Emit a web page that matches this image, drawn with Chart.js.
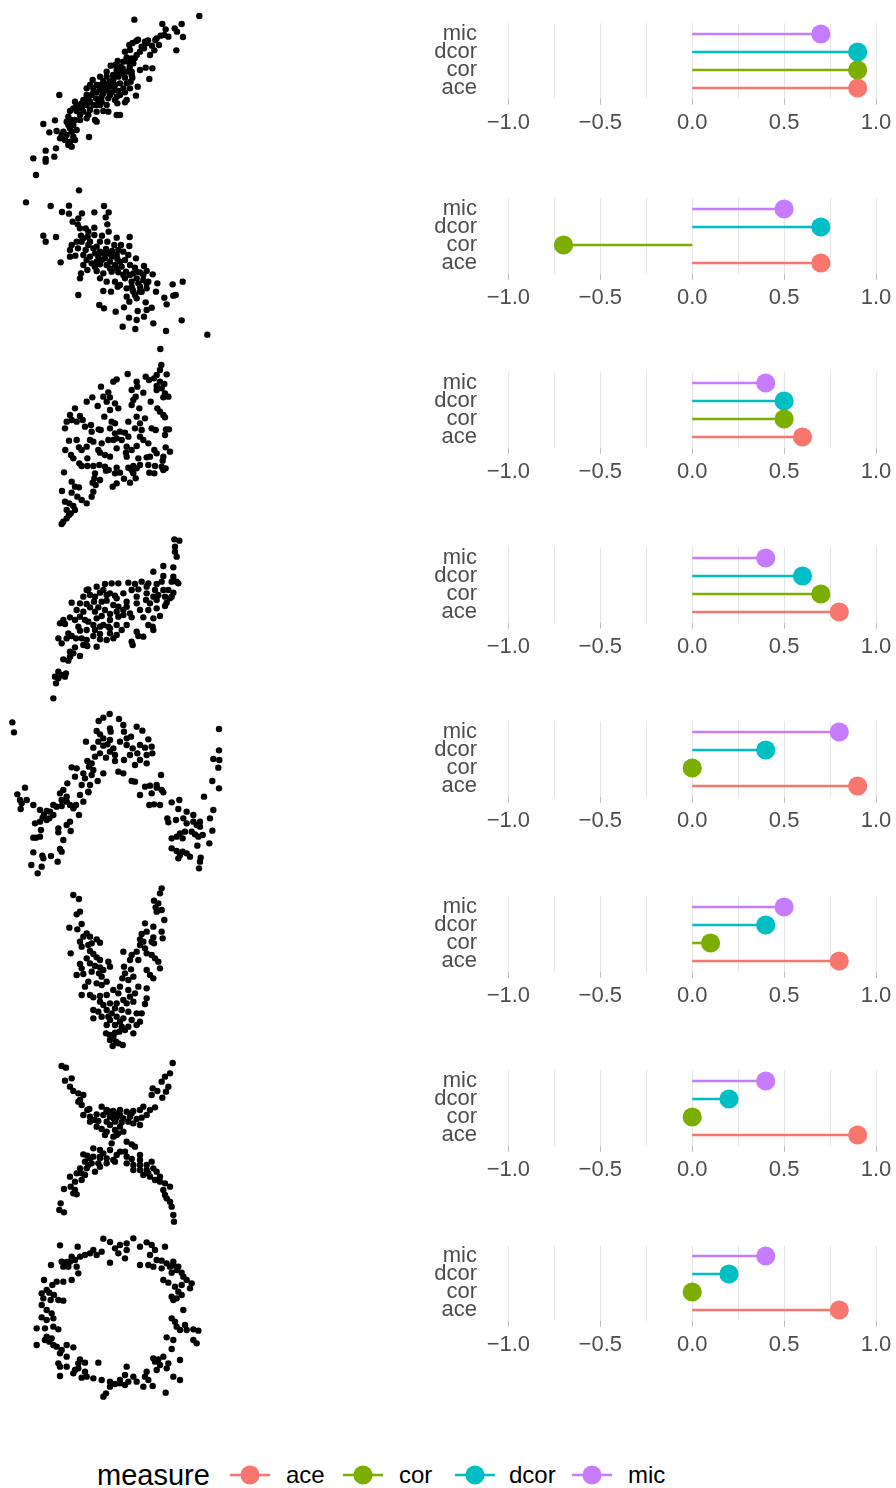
<!DOCTYPE html>
<html>
<head>
<meta charset="utf-8">
<script src="https://cdn.jsdelivr.net/npm/chart.js@4/dist/chart.umd.min.js"></script>
<style>
  html, body { margin: 0; padding: 0; background: #ffffff; }
  body { position: relative; width: 896px; height: 1488px; overflow: hidden;
         font-family: "Liberation Sans", Arial, Helvetica, sans-serif; }
  canvas { position: absolute; }
  .lg { position: absolute; color: #000000; white-space: nowrap; line-height: 1; }
  .lg-title { font-size: 29px; }
  .lg-text { font-size: 24px; }
  .lg-key { position: absolute; }
</style>
</head>
<body>
<script>
// ---- association measures per relationship (one value per row, top to bottom) ----
const measures = ['ace', 'cor', 'dcor', 'mic'];
const measureColors = ['#F8766D', '#7CAE00', '#00BFC4', '#C77CFF'];
const aceValues  = [0.9,  0.7, 0.6, 0.8, 0.9, 0.8, 0.9, 0.8];
const corValues  = [0.9, -0.7, 0.5, 0.7, 0.0, 0.1, 0.0, 0.0];
const dcorValues = [0.9,  0.7, 0.5, 0.6, 0.4, 0.4, 0.2, 0.2];
const micValues  = [0.7,  0.5, 0.4, 0.4, 0.8, 0.5, 0.4, 0.4];
const xTickLabels = [-1, -0.5, 0, 0.5, 1];
const xGridValues = [-1, -0.75, -0.5, -0.25, 0, 0.25, 0.5, 0.75, 1];

// ---- simulated samples (x, y) for each relationship ----
const linearPts = [
[598,-33],[403,-44],[487,-57],[545,-57],[497,-73],[524,-70],[531,-80],[493,-90],[482,-92],[549,-96],
[466,-105],[444,-106],[414,-104],[388,-120],[398,-114],[409,-108],[432,-130],[456,-122],[477,-120],[529,-136],
[450,-150],[463,-136],[404,-160],[380,-157],[353,-168],[370,-170],[332,-182],[362,-185],[389,-186],[437,-188],
[457,-190],[448,-222],[413,-245],[397,-218],[380,-200],[366,-205],[350,-195],[339,-210],[320,-200],[300,-215],
[278,-225],[270,-240],[290,-240],[310,-228],[330,-230],[345,-240],[360,-235],[380,-235],[390,-250],[375,-262],
[355,-258],[335,-262],[318,-255],[300,-255],[280,-262],[260,-270],[250,-285],[270,-290],[288,-280],[305,-275],
[325,-280],[345,-285],[352,-295],[380,-285],[408,-272],[375,-292],[320,-300],[300,-300],[280,-300],[260,-300],
[238,-300],[220,-310],[210,-318],[230,-318],[250,-320],[270,-315],[290,-320],[310,-318],[325,-320],[350,-330],
[360,-330],[178,-270],[240,-330],[260,-340],[285,-345],[290,-350],[130,-357],[165,-346],[200,-350],[220,-360],
[210,-370],[230,-375],[190,-380],[148,-382],[170,-378],[200,-390],[220,-395],[195,-405],[210,-410],[180,-400],
[225,-405],[267,-396],[205,-420],[215,-425],[137,-437],[168,-430],[100,-460],[137,-462],[163,-455],[137,-470],
[108,-510],[260,-250],[280,-250],[300,-240],[320,-215],[340,-225],[355,-215],[375,-218],[395,-200],[310,-265],
[295,-290],[265,-280],[245,-295],[225,-290],[330,-245],[360,-270],[240,-345],[205,-335],[215,-345],[420,-140],
[440,-115],[470,-100],[505,-95],[375,-140],[390,-135],[345,-180],[368,-190],[400,-175],[392,-230],
[230,-300],[245,-310],[255,-292],[275,-270],[290,-262],[315,-245],[325,-235],[340,-215],[350,-205],[365,-195],
[385,-170],[395,-160],[410,-150],[425,-125],[435,-110],[265,-330],[215,-380],[205,-360],[225,-345],[185,-390],
[290,-300],[305,-290],[330,-270],[345,-255],[370,-250],[350,-275],[395,-210],[420,-195]
];
const negativePts = [
[237,-16],[78,-52],[152,-63],[207,-62],[312,-63],[186,-81],[207,-86],[246,-85],[283,-82],[326,-82],
[317,-97],[235,-100],[218,-110],[233,-118],[322,-118],[257,-130],[283,-128],[130,-152],[168,-156],[137,-170],
[243,-152],[263,-155],[283,-150],[306,-152],[326,-140],[350,-158],[389,-156],[245,-170],[270,-170],[300,-170],
[322,-170],[343,-180],[363,-180],[388,-183],[215,-180],[234,-190],[210,-195],[257,-195],[280,-190],[300,-200],
[318,-192],[336,-198],[355,-195],[370,-200],[385,-210],[210,-215],[226,-212],[250,-210],[270,-215],[295,-215],
[315,-220],[335,-215],[352,-222],[375,-225],[408,-220],[182,-232],[250,-240],[275,-235],[300,-238],[320,-240],
[345,-240],[365,-245],[390,-240],[405,-248],[432,-243],[262,-255],[290,-258],[310,-265],[335,-260],[355,-262],
[378,-260],[400,-265],[420,-262],[440,-258],[458,-268],[243,-265],[240,-280],[300,-280],[320,-290],[345,-290],
[375,-280],[410,-280],[430,-285],[445,-290],[472,-295],[518,-298],[548,-290],[235,-330],[310,-318],[333,-320],
[353,-305],[380,-310],[398,-315],[420,-305],[440,-310],[468,-320],[493,-338],[520,-332],[527,-330],[380,-335],
[388,-350],[410,-340],[437,-352],[500,-358],[298,-360],[312,-370],[347,-380],[372,-367],[413,-378],[440,-375],
[455,-368],[387,-398],[410,-405],[432,-395],[460,-415],[545,-406],[368,-425],[406,-432],[498,-438],[622,-449],
[400,-320],[425,-320],[360,-300],[290,-230],[305,-225],[240,-130],[265,-140],[285,-205],[350,-210],[395,-290],
[415,-295],[260,-225],[285,-245],[330,-250],[350,-250],[370,-270],[390,-270],[410,-260],[430,-270],[440,-295],
[420,-320],[405,-330],[395,-305],[325,-205],[310,-205],[290,-185],[265,-180],[230,-170],[250,-160],[330,-230],
[360,-230]
];
const rhombusPts = [
[481,-27],[484,-75],[480,-90],[470,-105],[500,-103],[383,-102],[350,-118],[340,-125],[437,-110],[447,-120],
[462,-115],[410,-125],[480,-125],[493,-132],[470,-138],[412,-140],[395,-150],[430,-158],[303,-140],[325,-157],
[310,-170],[330,-172],[277,-172],[260,-185],[293,-198],[320,-185],[345,-190],[330,-210],[355,-205],[400,-180],
[407,-170],[395,-195],[452,-185],[495,-160],[505,-170],[490,-172],[418,-205],[472,-205],[480,-215],[490,-225],
[495,-232],[225,-205],[210,-225],[200,-245],[195,-265],[215,-240],[230,-245],[248,-240],[240,-228],[273,-255],
[313,-230],[335,-245],[345,-250],[410,-230],[435,-235],[420,-250],[385,-245],[405,-265],[455,-265],[467,-270],
[498,-268],[507,-268],[495,-285],[296,-268],[302,-270],[275,-275],[345,-280],[360,-275],[375,-278],[385,-290],
[350,-295],[340,-300],[365,-300],[420,-290],[430,-300],[445,-310],[207,-302],[270,-300],[280,-305],[305,-310],
[325,-300],[237,-322],[245,-330],[295,-330],[300,-338],[350,-325],[380,-320],[378,-338],[395,-330],[410,-318],
[463,-330],[497,-322],[510,-335],[196,-330],[213,-345],[220,-355],[262,-355],[315,-345],[330,-350],[380,-350],
[415,-355],[440,-352],[470,-340],[490,-350],[488,-362],[238,-370],[245,-378],[262,-378],[280,-378],[298,-375],
[315,-380],[326,-390],[350,-383],[385,-383],[400,-378],[420,-375],[445,-375],[465,-378],[485,-380],[497,-385],
[192,-397],[285,-400],[283,-415],[318,-392],[345,-400],[360,-398],[395,-390],[410,-385],[448,-398],[463,-400],
[490,-390],[215,-425],[225,-440],[237,-442],[278,-428],[287,-435],[350,-430],[338,-440],[372,-416],[390,-428],
[407,-415],[186,-453],[215,-458],[280,-455],[275,-470],[232,-470],[245,-480],[260,-490],[208,-490],[195,-485],
[220,-498],[200,-510],[212,-520],[225,-510],[190,-545],[200,-535],[207,-525],[185,-552],
[470,-150],[485,-145],[425,-270],[330,-265],[255,-260],[230,-300],[260,-320],[450,-350],[400,-400],[300,-420]
];
const cubicPts = [
[523,-28],[538,-32],[525,-50],[525,-65],[530,-80],[490,-108],[520,-112],[460,-125],[490,-138],[520,-140],
[530,-155],[515,-155],[485,-155],[470,-162],[445,-160],[425,-155],[405,-162],[385,-158],[355,-160],[335,-160],
[315,-162],[260,-180],[265,-178],[300,-188],[330,-190],[345,-197],[370,-190],[395,-180],[415,-178],[440,-170],
[465,-180],[475,-195],[495,-200],[510,-205],[520,-188],[535,-160],[215,-218],[240,-220],[260,-222],[282,-215],
[305,-215],[320,-212],[340,-225],[355,-230],[380,-215],[410,-200],[438,-210],[460,-200],[500,-218],[515,-200],
[230,-240],[250,-245],[270,-232],[295,-232],[315,-240],[330,-252],[350,-245],[370,-240],[390,-250],[420,-240],
[445,-240],[470,-235],[495,-228],[190,-270],[210,-262],[225,-270],[290,-265],[305,-258],[330,-270],[355,-260],
[370,-255],[395,-262],[430,-262],[460,-265],[480,-258],[180,-280],[195,-282],[265,-275],[280,-285],[310,-285],
[325,-290],[350,-285],[380,-285],[445,-285],[458,-290],[205,-310],[215,-318],[240,-302],[260,-300],[285,-300],
[300,-312],[330,-310],[350,-315],[365,-300],[410,-305],[430,-320],[460,-300],[175,-325],[185,-340],[200,-325],
[228,-325],[245,-325],[260,-330],[280,-318],[300,-328],[320,-330],[340,-325],[395,-335],[415,-318],[225,-352],
[250,-345],[262,-348],[290,-350],[398,-345],[210,-365],[220,-370],[240,-378],[190,-388],[205,-392],[210,-380],
[175,-425],[185,-435],[198,-430],[165,-440],[175,-445],[195,-440],[168,-460],[160,-505],[270,-195],[290,-170],
[310,-180],[285,-245],[240,-260],[450,-220],[505,-180],
[320,-195],[350,-205],[285,-200],[250,-200],[300,-290],[330,-295],[255,-270],[235,-290],[380,-230],[410,-220],
[440,-190],[470,-210],[490,-180]
];
const sinePts = [
[37,-52],[42,-82],[329,-27],[296,-48],[310,-38],[357,-42],[370,-60],[410,-65],[427,-77],[330,-70],
[332,-80],[290,-78],[300,-88],[372,-80],[393,-95],[445,-103],[657,-72],[258,-110],[295,-110],[310,-122],
[280,-128],[322,-118],[340,-130],[380,-120],[398,-130],[420,-120],[435,-128],[455,-125],[390,-150],[412,-145],
[440,-150],[457,-145],[300,-145],[330,-140],[345,-150],[318,-158],[285,-155],[262,-168],[275,-175],[345,-168],
[372,-165],[420,-165],[405,-180],[440,-175],[657,-136],[640,-162],[658,-165],[655,-188],[215,-187],[230,-190],
[267,-185],[255,-220],[275,-210],[310,-205],[293,-228],[355,-200],[370,-205],[395,-228],[405,-230],[483,-210],
[637,-228],[657,-250],[202,-235],[190,-255],[180,-265],[245,-240],[270,-240],[240,-270],[265,-262],[435,-245],
[450,-242],[470,-248],[485,-255],[490,-262],[420,-270],[52,-268],[75,-248],[60,-285],[65,-295],[80,-285],
[185,-285],[200,-275],[160,-300],[170,-305],[185,-303],[210,-300],[228,-300],[100,-300],[120,-315],[140,-318],
[150,-320],[62,-312],[128,-338],[140,-345],[148,-340],[237,-330],[612,-275],[448,-300],[462,-298],[480,-300],
[515,-292],[538,-285],[535,-312],[502,-340],[505,-352],[528,-345],[550,-340],[560,-355],[580,-350],[590,-360],
[600,-365],[640,-315],[630,-340],[105,-355],[120,-350],[210,-350],[200,-360],[212,-378],[175,-370],[175,-382],
[123,-375],[100,-398],[108,-398],[190,-405],[540,-385],[555,-380],[575,-380],[585,-388],[595,-395],[608,-390],
[637,-377],[515,-430],[530,-438],[540,-450],[548,-440],[560,-445],[535,-460],[570,-455],[185,-440],[180,-432],
[100,-442],[127,-452],[130,-460],[153,-453],[94,-480],[125,-485],[173,-470],[113,-505],[602,-458],[597,-490],
[600,-470],[628,-415],[592,-422],[548,-400],[600,-350],[470,-240],[455,-265],[250,-290],[265,-260],[220,-310],
[132,-330],[310,-100],[330,-105],[360,-110],[380,-100],[280,-195],[250,-205],[225,-215],[200,-290],[160,-330],
[120,-395],[560,-320],[580,-330],[515,-400],[530,-395]
];
const vShapePts = [
[220,-45],[237,-57],[485,-25],[480,-40],[462,-62],[475,-70],[467,-82],[470,-95],[485,-90],[493,-120],
[240,-95],[230,-103],[435,-130],[245,-132],[208,-143],[232,-148],[460,-140],[440,-155],[425,-162],[485,-155],
[260,-160],[270,-170],[290,-178],[300,-188],[420,-178],[460,-172],[455,-185],[488,-175],[240,-185],[245,-200],
[265,-195],[212,-220],[270,-213],[280,-222],[370,-215],[395,-225],[410,-215],[435,-205],[440,-220],[462,-190],
[260,-235],[290,-232],[300,-240],[325,-245],[390,-240],[465,-235],[475,-245],[240,-252],[270,-250],[285,-258],
[300,-262],[330,-260],[372,-260],[440,-270],[480,-265],[230,-285],[250,-282],[275,-275],[297,-280],[375,-280],
[393,-268],[450,-285],[460,-295],[265,-305],[290,-310],[305,-315],[320,-305],[367,-295],[385,-300],[400,-290],
[440,-325],[255,-320],[245,-345],[270,-345],[280,-352],[300,-348],[320,-345],[355,-340],[385,-330],[390,-350],
[405,-340],[415,-320],[440,-355],[300,-365],[310,-375],[330,-370],[350,-370],[370,-360],[380,-370],[400,-365],
[435,-372],[280,-390],[295,-395],[320,-390],[345,-385],[365,-390],[385,-395],[410,-400],[425,-400],[280,-415],
[305,-410],[325,-410],[350,-410],[370,-415],[395,-420],[420,-425],[320,-435],[345,-435],[365,-440],[385,-440],
[410,-435],[318,-460],[330,-465],[345,-458],[358,-455],[400,-460],[330,-480],[348,-485],[368,-495],[338,-498],
[355,-490],[245,-265],[305,-290],[335,-400],[455,-225],[415,-240],
[250,-170],[275,-190],[420,-195],[430,-185],[310,-270],[360,-320],[340,-330],[330,-420],[360,-425],[375,-450],
[340,-470]
];
const crossPts = [
[185,-33],[198,-38],[518,-24],[510,-55],[495,-65],[485,-80],[505,-95],[498,-110],[195,-77],[215,-70],
[210,-95],[220,-108],[235,-115],[250,-120],[458,-100],[455,-120],[472,-108],[487,-128],[240,-135],[245,-150],
[262,-165],[268,-162],[305,-155],[320,-165],[340,-168],[360,-165],[380,-170],[400,-168],[420,-165],[430,-155],
[450,-165],[465,-157],[440,-180],[250,-180],[270,-185],[290,-178],[310,-180],[330,-185],[350,-188],[370,-190],
[390,-185],[410,-192],[425,-188],[270,-200],[295,-198],[320,-200],[345,-200],[365,-202],[385,-200],[400,-205],
[420,-210],[290,-215],[305,-222],[320,-230],[345,-225],[355,-235],[370,-230],[315,-240],[340,-245],[350,-240],
[380,-260],[395,-268],[405,-275],[280,-280],[300,-285],[330,-285],[360,-290],[375,-290],[250,-298],[262,-302],
[280,-305],[300,-305],[320,-310],[340,-315],[380,-305],[395,-312],[420,-300],[255,-320],[275,-325],[295,-325],
[320,-325],[345,-320],[380,-325],[400,-330],[420,-330],[455,-320],[240,-340],[260,-340],[285,-350],[300,-335],
[400,-345],[420,-345],[440,-345],[460,-340],[230,-355],[255,-360],[210,-365],[225,-380],[245,-375],[430,-360],
[450,-365],[470,-350],[480,-365],[480,-380],[495,-385],[465,-375],[192,-402],[212,-395],[225,-405],[220,-415],
[230,-418],[490,-405],[510,-395],[495,-420],[500,-430],[510,-440],[182,-445],[515,-455],[178,-465],[192,-472],
[520,-480],[522,-500],[340,-190],[330,-170],[360,-180],[300,-310],[440,-330],[235,-140],[270,-310],
[320,-170],[345,-175],[395,-175],[285,-195],[330,-210],[360,-215],[335,-265],[310,-295],[350,-300],[420,-315],
[265,-330],[245,-355],[445,-355]
];
const ringPts = [
[180,-46],[233,-50],[310,-26],[330,-36],[345,-55],[360,-45],[380,-40],[400,-25],[380,-60],[355,-70],
[375,-85],[440,-37],[455,-45],[465,-60],[450,-75],[495,-50],[305,-65],[290,-75],[270,-70],[255,-75],
[240,-80],[225,-90],[210,-95],[185,-95],[190,-110],[205,-110],[230,-110],[330,-98],[420,-105],[445,-105],
[460,-110],[485,-92],[500,-100],[510,-110],[520,-105],[535,-110],[530,-120],[485,-115],[515,-128],[545,-128],
[550,-140],[560,-150],[575,-160],[570,-175],[153,-105],[235,-130],[215,-150],[190,-155],[170,-155],[132,-150],
[157,-165],[140,-180],[125,-190],[148,-188],[162,-195],[175,-210],[190,-212],[152,-210],[125,-225],[490,-150],
[505,-158],[525,-170],[535,-185],[545,-195],[530,-205],[520,-210],[515,-200],[550,-240],[125,-262],[140,-270],
[155,-250],[160,-265],[110,-295],[135,-295],[160,-290],[175,-298],[515,-265],[525,-275],[530,-290],[540,-300],
[560,-300],[580,-298],[595,-302],[140,-320],[145,-330],[155,-325],[148,-335],[135,-330],[500,-322],[520,-330],
[580,-330],[590,-340],[110,-345],[170,-350],[185,-360],[200,-345],[220,-352],[515,-357],[180,-370],[200,-380],
[240,-388],[235,-400],[255,-398],[175,-400],[180,-410],[460,-385],[475,-388],[490,-380],[465,-395],[480,-405],
[540,-390],[295,-398],[225,-420],[235,-415],[255,-425],[220,-430],[380,-410],[440,-425],[470,-420],[500,-415],
[180,-438],[245,-443],[280,-445],[305,-450],[375,-435],[360,-450],[385,-455],[410,-455],[435,-440],[445,-450],
[520,-440],[540,-450],[330,-470],[345,-462],[360,-460],[375,-465],[430,-470],[458,-468],[318,-490],[310,-500],
[497,-488],[520,-95],[200,-96],
[215,-80],[280,-60],[420,-50],[470,-90],[545,-165],[130,-205],[140,-240],[555,-285],[160,-345],[200,-410],
[260,-440],[330,-455],[400,-440],[505,-400]
];

const samples = [linearPts, negativePts, rhombusPts, cubicPts, sinePts, vShapePts, crossPts, ringPts];
const measureValues = [aceValues, corValues, dcorValues, micValues];

// ---- layout ----
const FONT = '"Liberation Sans", Arial, Helvetica, sans-serif';
const scatterBoxes = [
  { top: 5,    height: 180 }, { top: 185,  height: 160 },
  { top: 340,  height: 190 }, { top: 530,  height: 180 },
  { top: 705,  height: 180 }, { top: 880,  height: 175 },
  { top: 1055, height: 175 }, { top: 1230, height: 175 }
];
const ROW_STEP = 174.57;

function makeCanvas(left, top, width, height) {
  const c = document.createElement('canvas');
  c.width = width; c.height = height;
  c.style.left = left + 'px'; c.style.top = top + 'px';
  c.style.width = width + 'px'; c.style.height = height + 'px';
  document.body.appendChild(c);
  return c;
}

const baseOptions = {
  responsive: false,
  animation: false,
  devicePixelRatio: 1,
  events: [],
  plugins: { legend: { display: false }, tooltip: { enabled: false } }
};

// scatter of each sample
samples.forEach((pts, i) => {
  const box = scatterBoxes[i];
  const canvas = makeCanvas(0, box.top, 230, box.height);
  new Chart(canvas, {
    type: 'scatter',
    data: {
      datasets: [{
        data: pts.map(p => ({ x: p[0], y: p[1] })),
        pointRadius: 3.2,
        pointBackgroundColor: '#000000',
        pointBorderWidth: 0,
        clip: false
      }]
    },
    options: Object.assign({}, baseOptions, {
      layout: { padding: 0, autoPadding: false },
      scales: {
        x: { display: false, min: 0, max: 690 },
        y: { display: false, min: -box.height * 3, max: 0 }
      }
    })
  });
});

// lollipop of the four measures for each sample
function fmtTick(v) {
  if (!xTickLabels.some(t => Math.abs(t - v) < 1e-9)) return '';
  const s = Math.abs(v).toFixed(1);
  return v < 0 ? '\u2212' + s : s;
}

samples.forEach((_, i) => {
  const top = Math.round(15 + i * ROW_STEP);
  const canvas = makeCanvas(420, top, 476, 125);
  const datasets = measures.map((m, k) => ({
    label: m,
    data: [{ x: 0, y: k + 1 }, { x: measureValues[k][i], y: k + 1 }],
    showLine: true,
    borderColor: measureColors[k],
    borderWidth: 2.6,
    pointRadius: [0, 9.6],
    pointHoverRadius: [0, 9.6],
    pointBackgroundColor: measureColors[k],
    pointBorderWidth: 0,
    clip: false
  }));
  new Chart(canvas, {
    type: 'scatter',
    data: { datasets },
    options: Object.assign({}, baseOptions, {
      layout: { padding: { top: 8.2, right: 1.6, bottom: 0, left: 0 }, autoPadding: false },
      scales: {
        x: {
          min: -1.1, max: 1.1,
          afterBuildTicks: s => { s.ticks = xGridValues.map(v => ({ value: v })); },
          afterFit: s => { s.height = 41.2; s.paddingLeft = 0; s.paddingRight = 0; },
          border: { display: false },
          grid: {
            color: '#E6E6E6', lineWidth: 1, drawTicks: true, tickLength: 6,
            tickColor: ctx => (ctx.tick && fmtTick(ctx.tick.value) !== '') ? '#BDBDBD' : 'rgba(0,0,0,0)'
          },
          ticks: {
            autoSkip: false, maxRotation: 0, minRotation: 0, padding: 5,
            color: '#4D4D4D', font: { family: FONT, size: 22, lineHeight: 1.2 },
            callback: v => fmtTick(v)
          }
        },
        y: {
          min: 0.4, max: 4.6,
          afterBuildTicks: s => { s.ticks = measures.map((_, k) => ({ value: k + 1 })); },
          afterFit: s => { s.width = 70; s.paddingTop = 0; s.paddingBottom = 0; },
          border: { display: false },
          grid: { display: false, drawTicks: false },
          ticks: {
            autoSkip: false, padding: 13,
            color: '#4D4D4D', font: { family: FONT, size: 22, lineHeight: 1 },
            callback: v => measures[Math.round(v) - 1]
          }
        }
      }
    })
  });
});

// legend
(function () {
  const cy = 1475;
  const title = document.createElement('div');
  title.className = 'lg lg-title';
  title.textContent = 'measure';
  title.style.left = '97px';
  document.body.appendChild(title);
  title.style.top = (cy - title.offsetHeight / 2) + 'px';

  const keyLeft = [230, 343, 455, 572];
  const textLeft = [286, 399, 509, 628];
  measures.forEach((m, k) => {
    const ns = 'http://www.w3.org/2000/svg';
    const svg = document.createElementNS(ns, 'svg');
    svg.setAttribute('width', '40'); svg.setAttribute('height', '22');
    svg.setAttribute('class', 'lg-key');
    svg.style.left = keyLeft[k] + 'px';
    svg.style.top = (cy - 11) + 'px';
    const line = document.createElementNS(ns, 'line');
    line.setAttribute('x1', '0'); line.setAttribute('x2', '40');
    line.setAttribute('y1', '11'); line.setAttribute('y2', '11');
    line.setAttribute('stroke', measureColors[k]); line.setAttribute('stroke-width', '2.6');
    const dot = document.createElementNS(ns, 'circle');
    dot.setAttribute('cx', '20'); dot.setAttribute('cy', '11'); dot.setAttribute('r', '9.6');
    dot.setAttribute('fill', measureColors[k]);
    svg.appendChild(line); svg.appendChild(dot);
    document.body.appendChild(svg);

    const t = document.createElement('div');
    t.className = 'lg lg-text';
    t.textContent = m;
    t.style.left = textLeft[k] + 'px';
    document.body.appendChild(t);
    t.style.top = (cy - t.offsetHeight / 2) + 'px';
  });
})();
</script>
</body>
</html>
